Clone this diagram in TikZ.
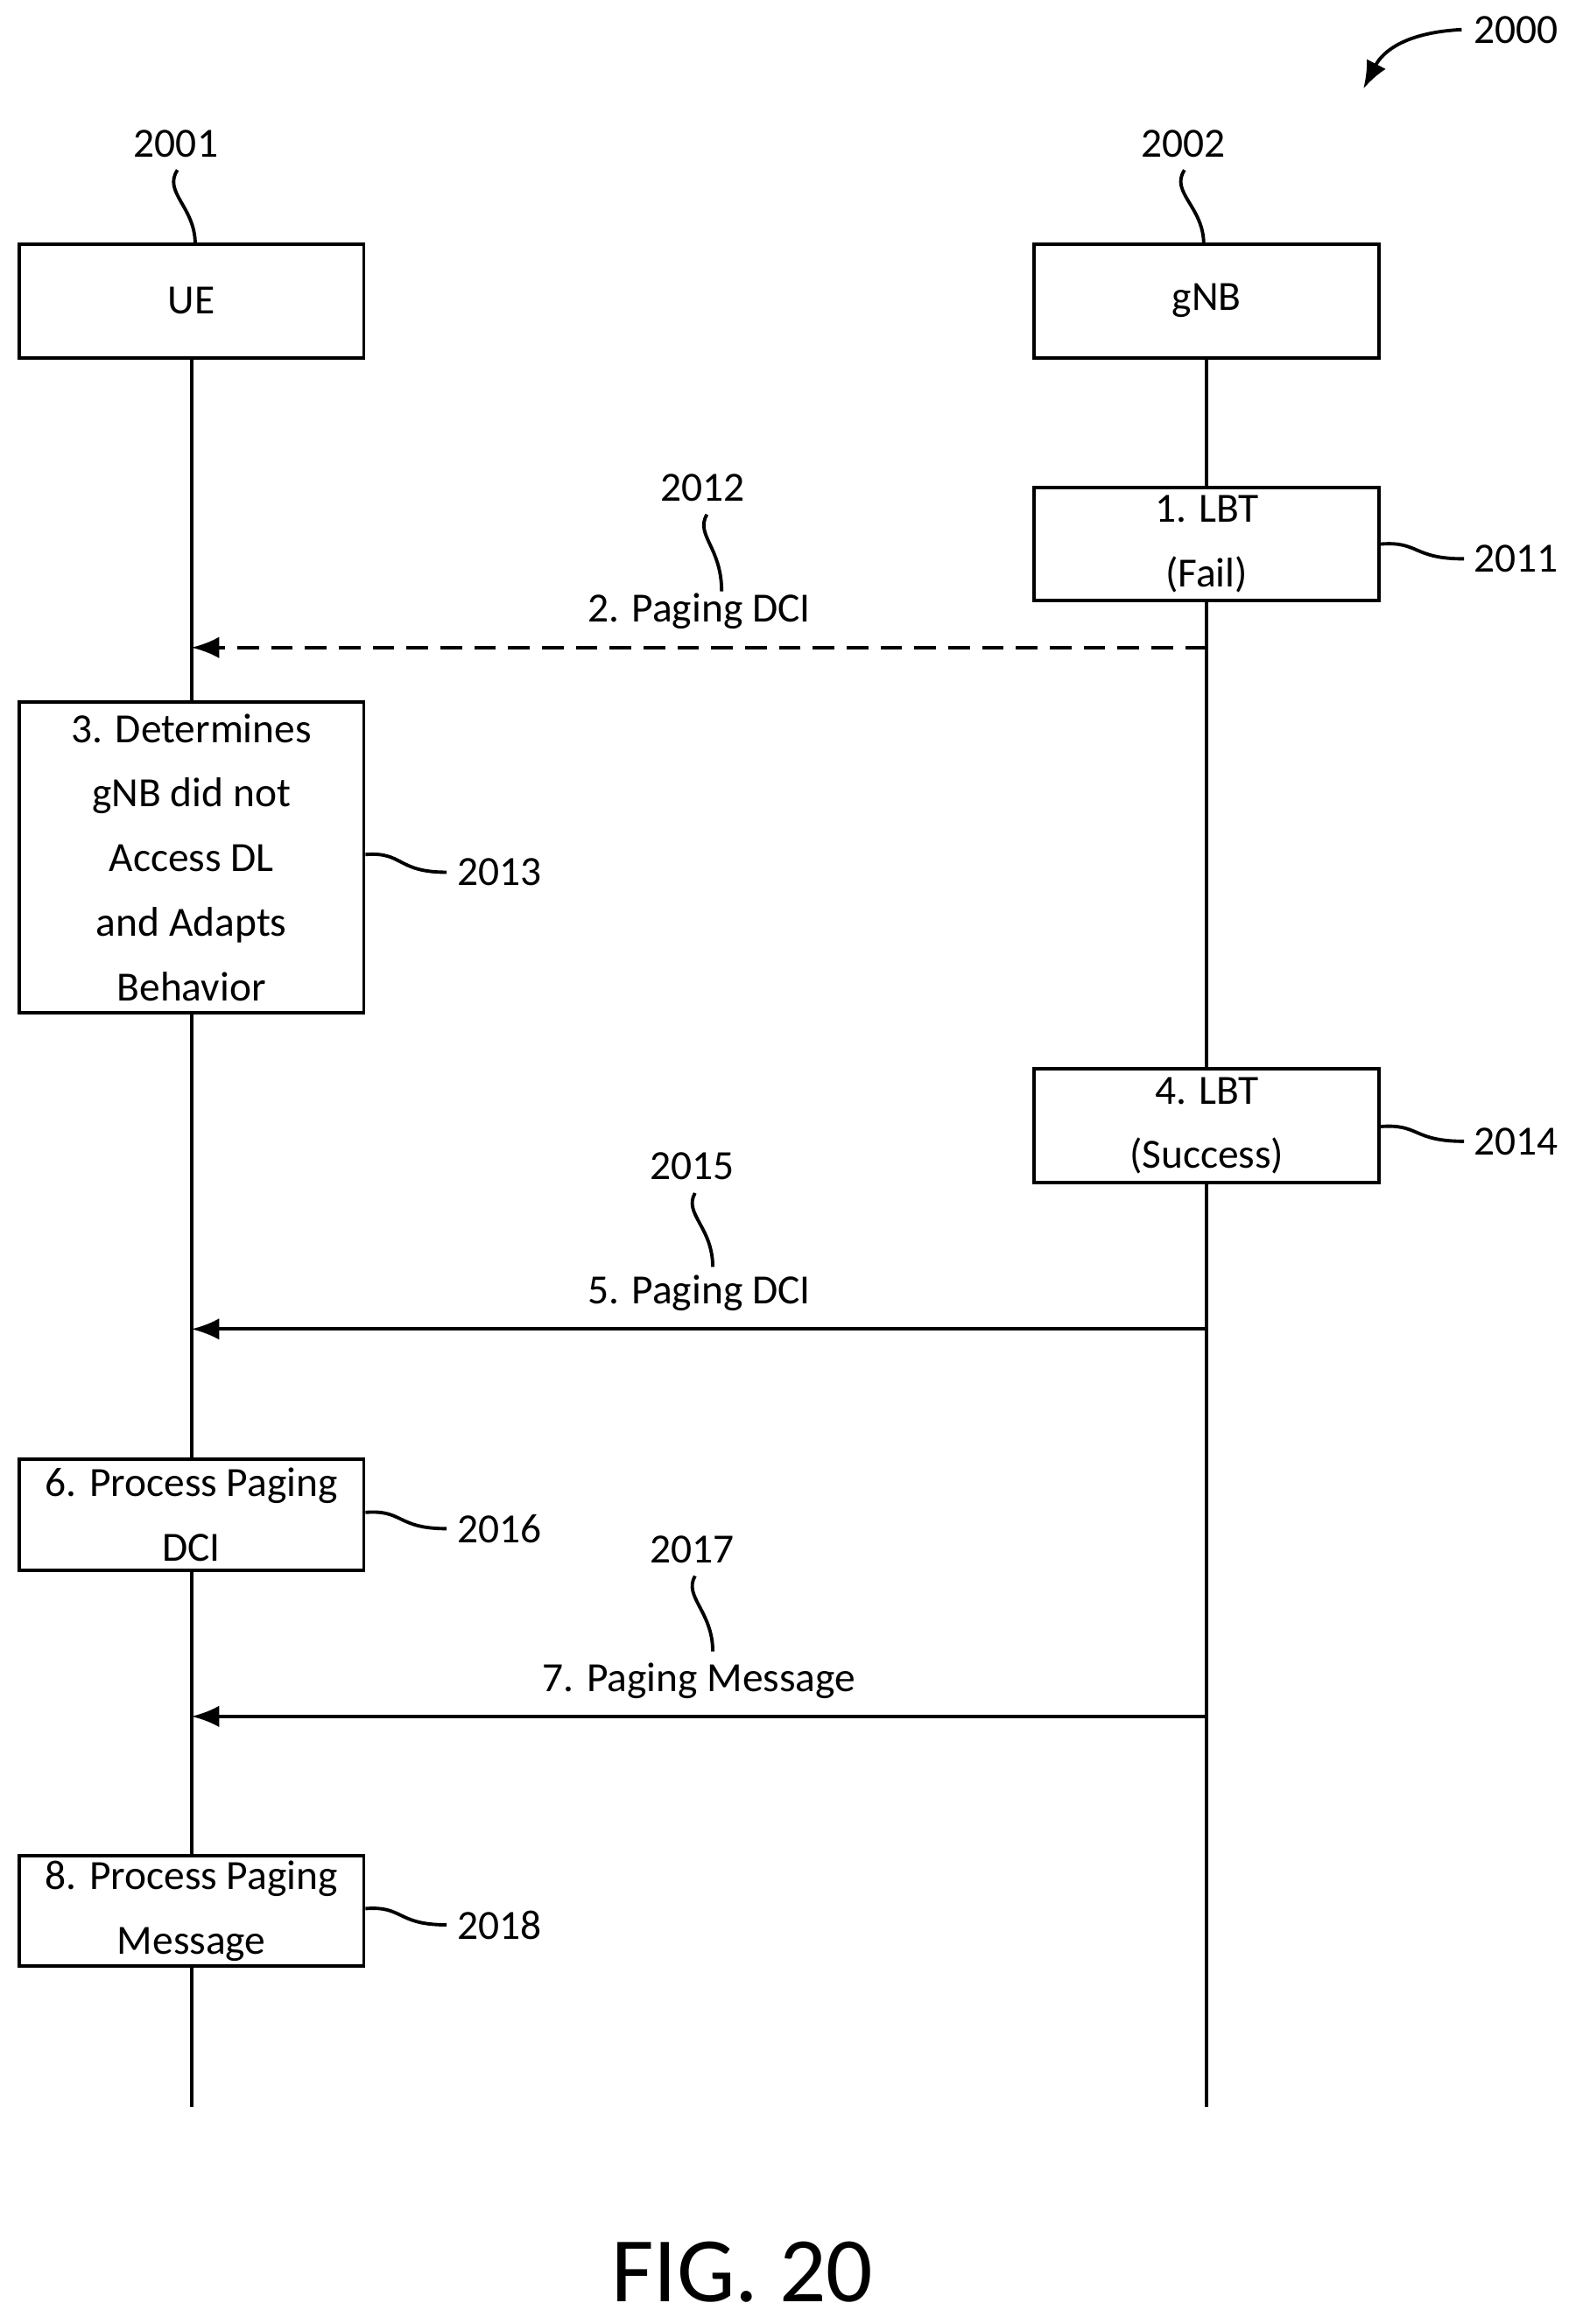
\documentclass[tikz,border=0pt]{standalone}
\usepackage{fontspec}
\setmainfont{Carlito}
\usetikzlibrary{arrows.meta,positioning}
\tikzset{every picture/.style={line width=1.1pt},
  box/.style={draw, minimum width=233*0.1689mm, align=center, font=\fontsize{13.5}{21}\selectfont, inner sep=0pt},
  lbl/.style={font=\fontsize{13.5}{15}\selectfont},
  msg/.style={-{Latex[length=9pt,width=7pt]}}}
\begin{document}
\begin{tikzpicture}[x=0.1689mm, y=-0.1689mm]
\useasboundingbox (0,0) rectangle (1070,1572);
% actors
\node[box, minimum height=77*0.1689mm] (ue) at (129.5,203.5) {UE};
\node[box, minimum height=77*0.1689mm] (gnb) at (816,203.5) {gNB};
\coordinate (ueend) at (129.5,1425);
\coordinate (gnbend) at (816,1425);
% steps
\node[box, minimum height=76*0.1689mm] (lbt1) at (816,368) {1. LBT\\(Fail)};
\node[box, minimum height=210*0.1689mm] (det) at (129.5,580) {3. Determines\\gNB did not\\Access DL\\and Adapts\\Behavior};
\node[box, minimum height=77*0.1689mm] (lbt2) at (816,761.5) {4. LBT\\(Success)};
\node[box, minimum height=75*0.1689mm] (proc1) at (129.5,1024.5) {6. Process Paging\\DCI};
\node[box, minimum height=75*0.1689mm] (proc2) at (129.5,1292.5) {8. Process Paging\\Message};
\draw (ue) -- (det) (det) -- (proc1) (proc1) -- (proc2) (proc2) -- (ueend);
\draw (gnb) -- (lbt1) (lbt1) -- (lbt2) (lbt2) -- (gnbend);
% messages
\coordinate (m2g) at (816,438); \coordinate (m2u) at (129.5,438);
\coordinate (m5g) at (816,899); \coordinate (m5u) at (129.5,899);
\coordinate (m7g) at (816,1161); \coordinate (m7u) at (129.5,1161);
\draw[msg, dash pattern=on 7pt off 4pt] (m2g) -- node[lbl, above=2pt] (t2) {2. Paging DCI} (m2u);
\draw[msg] (m5g) -- node[lbl, above=2pt] (t5) {5. Paging DCI} (m5u);
\draw[msg] (m7g) -- node[lbl, above=2pt] (t7) {7. Paging Message} (m7u);
% reference numerals
\node[lbl] (r2001) at (119,97) {2001};
\node[lbl] (r2002) at (800,97) {2002};
\node[lbl] (r2000) at (1025,20) {2000};
\node[lbl] (r2011) at (1025,378) {2011};
\node[lbl] (r2012) at (475,330) {2012};
\node[lbl] (r2013) at (338,590) {2013};
\node[lbl] (r2014) at (1025,772) {2014};
\node[lbl] (r2015) at (468,789) {2015};
\node[lbl] (r2016) at (338,1034) {2016};
\node[lbl] (r2017) at (468,1048) {2017};
\node[lbl] (r2018) at (338,1302) {2018};
\node[font=\fontsize{30}{36}\selectfont] (fig) at (502,1537) {FIG. 20};
\draw (120,115) .. controls (110,130) and (132,140) .. (132,165);
\draw (801,115) .. controls (791,130) and (814,140) .. (814,165);
\draw (478,348) .. controls (470,362) and (488,370) .. (488,400);
\draw (470,807) .. controls (462,821) and (482,830) .. (482,857);
\draw (470,1066) .. controls (462,1080) and (482,1090) .. (482,1117);
\draw (lbt1.east|-0,368) .. controls (960,366) and (955,378) .. (990,378);
\draw (lbt2.east|-0,762) .. controls (960,760) and (955,772) .. (990,772);
\draw (det.east|-0,578) .. controls (273,576) and (268,590) .. (302,590);
\draw (proc1.east|-0,1023) .. controls (273,1021) and (268,1034) .. (302,1034);
\draw (proc2.east|-0,1291) .. controls (273,1289) and (268,1302) .. (302,1302);
\draw[msg] (r2000.west) .. controls (950,22) and (935,35) .. (922,60);
\end{tikzpicture}
\end{document}
